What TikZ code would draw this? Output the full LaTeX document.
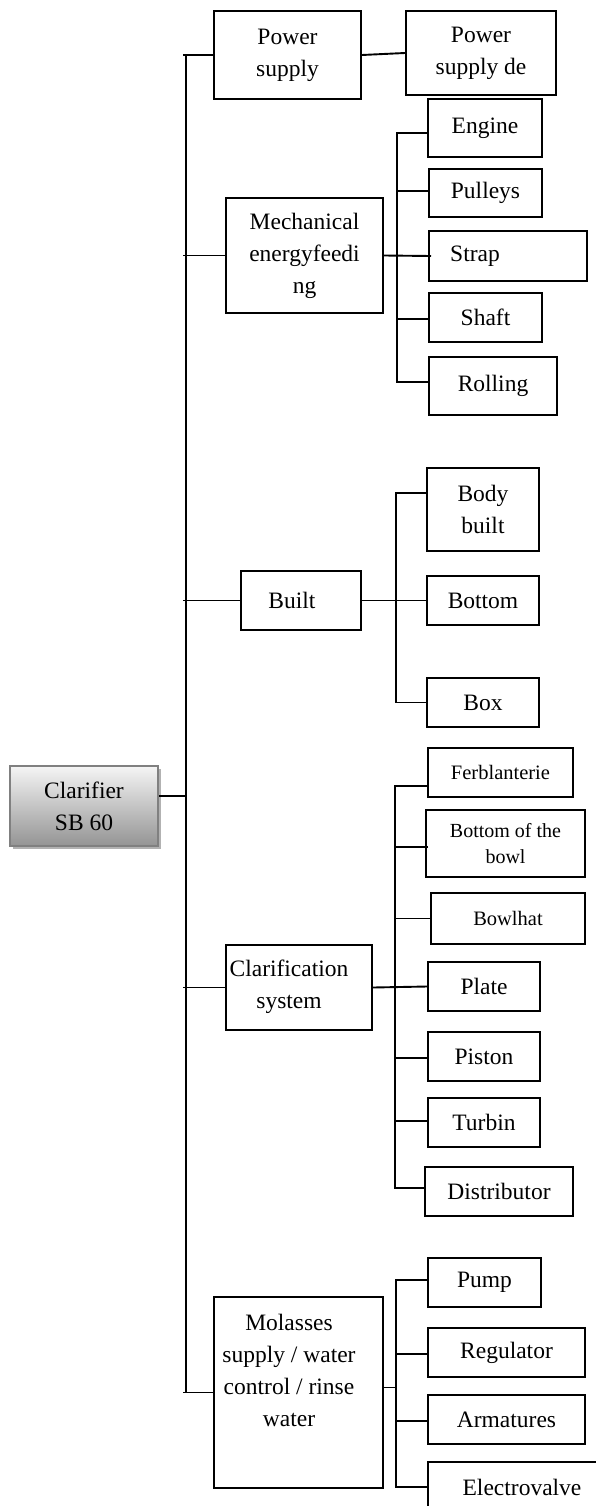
\documentclass[tikz,border=0pt]{standalone}
\usepackage{fontspec}
\setmainfont{Liberation Serif}
\usetikzlibrary{calc,shadows}
\newcommand\trunkbranch[3]{\draw[ln] let \p1=([yshift=#2]#1.west), \p2=(#3) in (\p1) -- ($(\x2,\y1)+(-3pt,0pt)$);}
\newcommand\subbranch[3]{\draw[ln] let \p1=([yshift=#2]#1.west), \p2=(#3) in (\p1) -- (\x2,\y1);}
\begin{document}
\begin{tikzpicture}[x=1pt,y=-1pt,
  bx/.style={draw, line width=2pt, inner sep=0pt, align=center, font=\fontsize{23.5}{32}\selectfont},
  sm/.style={font=\fontsize{20.5}{26}\selectfont},
  tx/.style={inner sep=0pt, align=center, font=\fontsize{23.5}{32}\selectfont},
  ln/.style={line width=1.9pt},
  rootbox/.style={draw=black!50, line width=2pt, top color=black!4, bottom color=black!42,
    inner sep=0pt, align=center, font=\fontsize{23.5}{32}\selectfont,
    drop shadow={shadow xshift=2.5pt, shadow yshift=-2.5pt, fill=black!30, opacity=1}}]
\useasboundingbox (0,0) rectangle (595,1506);
\fill[white] (0,0) rectangle (595,1506);

% root
\node[rootbox, minimum width=148pt, minimum height=80pt] (clar) at (84,806) {Clarifier\\SB 60};

% level 1
\node[bx, minimum width=147pt, minimum height=88pt] (pwr) at (287.5,55) {Power\\supply};
\node[bx, minimum width=157pt, minimum height=115pt] (mech) at (304.5,255.5) {Mechanical\\energyfeedi\\ng};
\node[bx, minimum width=120pt, minimum height=59pt] (built) at (301,600.5) {};
\node[tx] (builtT) at (292,600) {Built};
\node[bx, minimum width=146pt, minimum height=85pt] (clsys) at (299,987.5) {};
\node[tx] (clsysT) at (289,986.5) {Clarification\\system};
\node[bx, minimum width=169pt, minimum height=191pt] (mol) at (298.5,1392.5) {};
\node[tx] (molT) at (289,1370) {Molasses\\supply / water\\control / rinse\\water};

% level 2 - power
\node[bx, minimum width=150pt, minimum height=84pt] (pwrde) at (481,53) {Power\\supply de};

% level 2 - mechanical
\node[bx, minimum width=114pt, minimum height=58pt] (engine) at (485,128) {Engine};
\node[bx, minimum width=113pt, minimum height=48pt] (pulleys) at (485.5,193) {Pulleys};
\node[bx, minimum width=158pt, minimum height=50pt] (strap) at (508,256) {};
\node[tx] (strapT) at (475,256) {Strap};
\node[bx, minimum width=113pt, minimum height=49pt] (shaft) at (485.5,317.5) {Shaft};
\node[bx, minimum width=128pt, minimum height=58pt] (rolling) at (493,386) {Rolling};

% level 2 - built
\node[bx, minimum width=112pt, minimum height=83pt] (body) at (483,509.5) {Body\\built};
\node[bx, minimum width=112pt, minimum height=49pt] (bottom) at (483,600.5) {Bottom};
\node[bx, minimum width=112pt, minimum height=49pt] (boxn) at (483,702.5) {Box};

% level 2 - clarification
\node[bx, sm, minimum width=145pt, minimum height=49pt] (ferb) at (500.5,772.5) {Ferblanterie};
\node[bx, font=\fontsize{20}{26}\selectfont, minimum width=159pt, minimum height=67pt] (bowl) at (505.5,843.5) {Bottom of the\\bowl};
\node[bx, sm, minimum width=154pt, minimum height=51pt] (bowlhat) at (508,918.5) {Bowlhat};
\node[bx, minimum width=112pt, minimum height=49pt] (plate) at (484,986.5) {Plate};
\node[bx, minimum width=112pt, minimum height=49pt] (piston) at (484,1056.5) {Piston};
\node[bx, minimum width=112pt, minimum height=49pt] (turbin) at (484,1122.5) {Turbin};
\node[bx, minimum width=148pt, minimum height=49pt] (distrib) at (499,1191.5) {Distributor};

% level 2 - molasses
\node[bx, minimum width=113pt, minimum height=49pt] (pump) at (484.5,1282.5) {Pump};
\node[bx, minimum width=157pt, minimum height=49pt] (reg) at (506.5,1352.5) {Regulator};
\node[bx, minimum width=157pt, minimum height=49pt] (arm) at (506.5,1419.5) {Armatures};
\node[bx, minimum width=188pt, minimum height=50pt] (electro) at (522,1487) {Electrovalve};

% main trunk
\coordinate (tTop) at ($(pwr.west)+(-27,0)$);
\coordinate (tBot) at (tTop |- mol.west);
\draw[ln] (tTop) -- (tBot);
\trunkbranch{pwr}{0pt}{tTop}
\trunkbranch{mech}{0pt}{tTop}
\trunkbranch{built}{0pt}{tTop}
\trunkbranch{clsys}{0pt}{tTop}
\trunkbranch{mol}{0pt}{tTop}
\draw[ln] let \p1=([yshift=10pt]clar.east), \p2=(tTop) in (\p1) -- (\x2,\y1);

% power
\draw[ln] (pwr.east) -- (pwrde.west);

% mechanical
\coordinate (s1) at ($(engine.west)+(-30,0)$);
\draw[ln] let \p1=([yshift=-5pt]engine.west), \p2=([yshift=4pt]rolling.west), \p3=(s1)
  in (\p1) -- (\x3,\y1) -- (\x3,\y2) -- (\p2);
\subbranch{pulleys}{2pt}{s1}
\subbranch{shaft}{-1.5pt}{s1}
\draw[ln] (mech.east) -- ($(strap.west)+(3,0)$);

% built
\coordinate (s2) at ($(body.west)+(-30,0)$);
\draw[ln] let \p1=([yshift=16.5pt]body.west), \p2=(boxn.west), \p3=(s2)
  in (\p1) -- (\x3,\y1) -- (\x3,\y2) -- (\p2);
\draw[ln] (built.east) -- (bottom.west);

% clarification
\coordinate (s3) at ($(ferb.west)+(-32,0)$);
\draw[ln] let \p1=([yshift=-13.5pt]ferb.west), \p2=([yshift=3.5pt]distrib.west), \p3=(s3)
  in (\p1) -- (\x3,\y1) -- (\x3,\y2) -- (\p2);
\draw[ln] let \p1=([yshift=-3.5pt]bowl.west), \p2=(s3) in ($(\p1)+(3pt,0pt)$) -- (\x2,\y1);
\subbranch{bowlhat}{0pt}{s3}
\subbranch{piston}{-1.5pt}{s3}
\subbranch{turbin}{1.5pt}{s3}
\draw[ln] (clsys.east) -- (plate.west);

% molasses
\coordinate (s4) at ($(pump.west)+(-31,0)$);
\draw[ln] let \p1=([yshift=2.5pt]pump.west), \p2=(electro.west), \p3=(s4)
  in (\p1) -- (\x3,\y1) -- (\x3,\y2) -- (\p2);
\subbranch{reg}{-1.5pt}{s4}
\subbranch{arm}{-1.5pt}{s4}
\draw[ln] let \p1=([yshift=5pt]mol.east), \p2=(s4) in (\p1) -- (\x2,\y1);
\end{tikzpicture}
\end{document}
